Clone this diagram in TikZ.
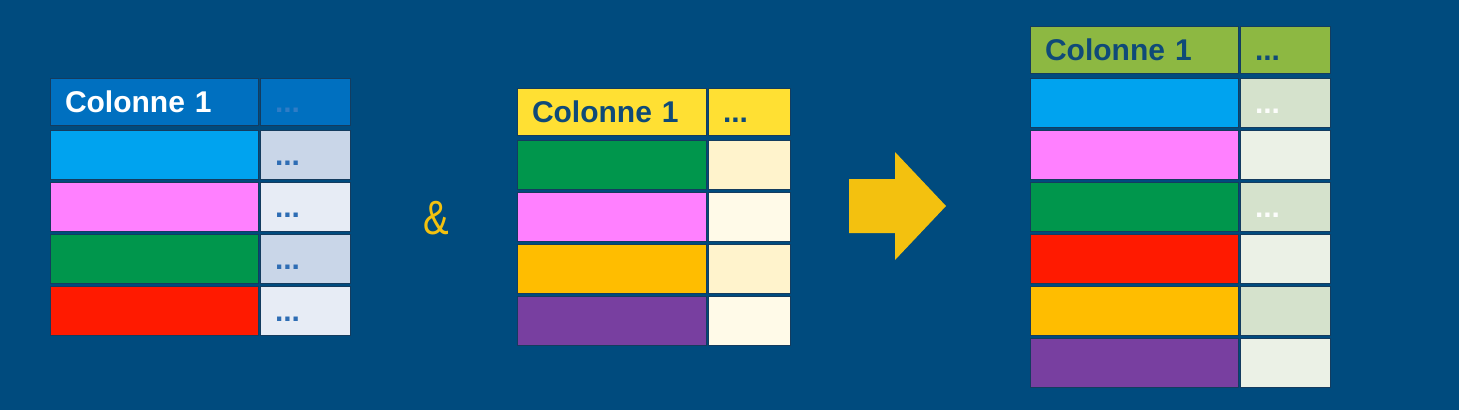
\documentclass[tikz,border=0pt]{standalone}
\usepackage{fontspec}
\setmainfont{Liberation Sans}
\usepackage{xcolor}
\usetikzlibrary{positioning}

\definecolor{bgblue}{HTML}{004B7E}
\definecolor{cellline}{HTML}{143C5F}
\definecolor{hblue}{HTML}{0070C0}
\definecolor{hyellow}{HTML}{FFE033}
\definecolor{hgreen}{HTML}{8DB842}
\definecolor{rcyan}{HTML}{00A3EF}
\definecolor{rpink}{HTML}{FF80FF}
\definecolor{rgreen}{HTML}{00964C}
\definecolor{rred}{HTML}{FF1A00}
\definecolor{rorange}{HTML}{FFBD00}
\definecolor{rpurple}{HTML}{783FA0}
\definecolor{blueA}{HTML}{C9D6E8}
\definecolor{blueB}{HTML}{E7ECF5}
\definecolor{creamA}{HTML}{FFF3CC}
\definecolor{creamB}{HTML}{FFFAE8}
\definecolor{sageA}{HTML}{D5E2CC}
\definecolor{sageB}{HTML}{EBF1E6}
\definecolor{darktext}{HTML}{0F4A78}
\definecolor{dotblue}{HTML}{2E6DB4}
\definecolor{dotlight}{HTML}{2F7CC6}
\definecolor{gold}{HTML}{F3C10F}

\newcommand{\cellfont}{\fontsize{30}{32}\selectfont\bfseries}

\begin{document}
\begin{tikzpicture}[
    cell/.style={fill=#1, draw=cellline, line width=0.8pt, outer sep=0pt, minimum height=49pt,
                 inner xsep=15pt, inner ysep=0pt, text height=21pt, text depth=0pt,
                 align=left, font=\cellfont, anchor=north west},
    head/.style={cell=#1, minimum height=47pt},
    wide/.style={text width=178pt},
    mid/.style={text width=159pt},
    dots/.style={text width=60pt},
    middots/.style={text width=52pt},
]

% background and frame
\fill[bgblue] (0pt,0pt) rectangle (1459pt,-410pt);
\useasboundingbox (0pt,0pt) rectangle (1459pt,-410pt);

% Table 1: first input
\node[head=hblue, wide, text=white] (lefthead) at (50pt,-78pt) {Colonne 1};
\node[head=hblue, dots, text=dotlight, right=2pt of lefthead] (leftheaddots) {...};
\node[cell=rcyan, wide, below=5pt of lefthead] (left1) {};
\node[cell=rpink, wide, below=3pt of left1] (left2) {};
\node[cell=rgreen, wide, below=3pt of left2] (left3) {};
\node[cell=rred, wide, below=3pt of left3] (left4) {};
\node[cell=blueA, dots, text=dotblue, right=2pt of left1] (leftdots1) {...};
\node[cell=blueB, dots, text=dotblue, right=2pt of left2] (leftdots2) {...};
\node[cell=blueA, dots, text=dotblue, right=2pt of left3] (leftdots3) {...};
\node[cell=blueB, dots, text=dotblue, right=2pt of left4] (leftdots4) {...};

% Ampersand
\node[font=\fontsize{48}{50}\selectfont, text=gold, xscale=0.8, inner sep=0pt] (amp) at (436pt,-218pt) {\&};

% Table 2: second input
\node[head=hyellow, mid, text=darktext] (midhead) at (517pt,-88pt) {Colonne 1};
\node[head=hyellow, middots, text=darktext, right=2pt of midhead] (midheaddots) {...};
\node[cell=rgreen, mid, below=5pt of midhead] (mid1) {};
\node[cell=rpink, mid, below=3pt of mid1] (mid2) {};
\node[cell=rorange, mid, below=3pt of mid2] (mid3) {};
\node[cell=rpurple, mid, below=3pt of mid3] (mid4) {};
\node[cell=creamA, middots, right=2pt of mid1] (middots1) {};
\node[cell=creamB, middots, right=2pt of mid2] (middots2) {};
\node[cell=creamA, middots, right=2pt of mid3] (middots3) {};
\node[cell=creamB, middots, right=2pt of mid4] (middots4) {};

% Merge arrow
\fill[gold] (849pt,-179pt) -- ++(46pt,0pt) -- ++(0pt,27pt) -- (946pt,-206pt)
    -- (895pt,-260pt) -- ++(0pt,27pt) -- ++(-46pt,0pt) -- cycle;

% Table 3: result
\node[head=hgreen, wide, text=darktext] (outhead) at (1030pt,-26pt) {Colonne 1};
\node[head=hgreen, dots, text=darktext, right=2pt of outhead] (outheaddots) {...};
\node[cell=rcyan, wide, below=5pt of outhead] (out1) {};
\node[cell=rpink, wide, below=3pt of out1] (out2) {};
\node[cell=rgreen, wide, below=3pt of out2] (out3) {};
\node[cell=rred, wide, below=3pt of out3] (out4) {};
\node[cell=rorange, wide, below=3pt of out4] (out5) {};
\node[cell=rpurple, wide, below=3pt of out5] (out6) {};
\node[cell=sageA, dots, text=white!92!sageA, right=2pt of out1] (outdots1) {...};
\node[cell=sageB, dots, right=2pt of out2] (outdots2) {};
\node[cell=sageA, dots, text=white!92!sageA, right=2pt of out3] (outdots3) {...};
\node[cell=sageB, dots, right=2pt of out4] (outdots4) {};
\node[cell=sageA, dots, right=2pt of out5] (outdots5) {};
\node[cell=sageB, dots, right=2pt of out6] (outdots6) {};

\end{tikzpicture}
\end{document}
